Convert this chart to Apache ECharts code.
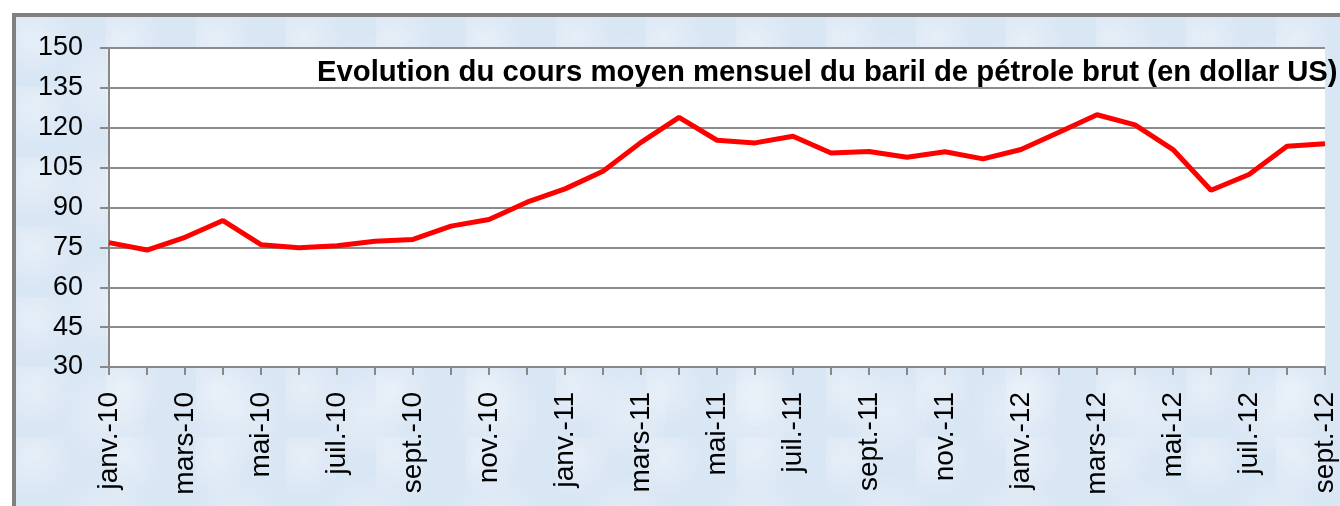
<!DOCTYPE html>
<html>
<head>
<meta charset="UTF-8">
<title>Evolution du cours du baril</title>
<script type="text/javascript" src="https://cdn.jsdelivr.net/npm/echarts@6/dist/echarts.min.js"></script>
<style>
  html, body { margin: 0; padding: 0; background: #fff; overflow: hidden; }
  #frame {
    position: absolute; left: 12px; top: 13px;
    width: 1400px; height: 520px;
    border-left: 4px solid #808080; border-top: 4px solid #808080;
    background-color: #d9e6f4;
    background-image:
      radial-gradient(circle at 20% 30%, rgba(255,255,255,0.35) 0, rgba(255,255,255,0) 40px),
      radial-gradient(circle at 70% 60%, rgba(255,255,255,0.3) 0, rgba(255,255,255,0) 50px);
    background-size: 90px 70px, 130px 110px;
  }
  #main { width: 1400px; height: 500px; }
</style>
</head>
<body>
<div id="frame"><div id="main"></div></div>
<script type="text/javascript">
// mois affichés sur l'axe
var months = ['janv.', 'févr.', 'mars', 'avr.', 'mai', 'juin', 'juil.', 'août', 'sept.', 'oct.', 'nov.', 'déc.'];
var years = ['10', '11', '12'];
var categories = [];
for (var y = 0; y < years.length; y++) {
  for (var m = 0; m < months.length; m++) {
    categories.push(months[m] + '-' + years[y]);
  }
}
categories = categories.slice(0, 33); // janv.-10 .. sept.-12

// cours moyen mensuel (USD)
var prices = [76.8, 74.0, 78.8, 85.1, 76.0, 74.9, 75.6, 77.3, 78.0, 83.0, 85.5, 92.0,
              97.0, 103.6, 114.5, 123.9, 115.3, 114.3, 116.8, 110.5, 111.1, 108.9, 111.0, 108.3,
              111.8, 118.3, 124.9, 121.1, 111.8, 96.5, 102.4, 113.0, 114.0];

var yMin = 30, yMax = 150, yStep = 15;

var chart = echarts.init(document.getElementById('main'));
var option = {
  backgroundColor: 'transparent',
  animation: false,
  title: {
    text: 'Evolution du cours moyen mensuel du baril de pétrole brut (en dollar US)',
    left: 301,
    top: 41,
    padding: 0,
    textStyle: {
      fontFamily: 'Liberation Sans, Arial, sans-serif',
      fontWeight: 'bold',
      fontSize: 29.3,
      color: '#000'
    }
  },
  grid: {
    left: 93, top: 31, width: 1216, height: 319,
    show: true, backgroundColor: '#fff', borderWidth: 0
  },
  xAxis: {
    type: 'category',
    data: categories,
    boundaryGap: false,
    axisLine: { lineStyle: { color: '#888', width: 2 } },
    axisTick: { interval: 0, length: 8, lineStyle: { color: '#888', width: 2 } },
    axisLabel: {
      interval: 1,
      rotate: 90,
      margin: 25,
      fontSize: 28,
      fontFamily: 'Liberation Sans, Arial, sans-serif',
      color: '#000'
    },
    splitLine: { show: false }
  },
  yAxis: {
    type: 'value',
    min: yMin, max: yMax, interval: yStep,
    axisLine: { show: true, lineStyle: { color: '#888', width: 2 } },
    axisTick: { show: true, length: 9, lineStyle: { color: '#888', width: 2 } },
    axisLabel: {
      margin: 26,
      fontSize: 27,
      fontFamily: 'Liberation Sans, Arial, sans-serif',
      color: '#000'
    },
    splitLine: { lineStyle: { color: '#8c8c8c', width: 2 } }
  },
  series: [{
    type: 'line',
    data: prices,
    showSymbol: false,
    lineStyle: { color: '#ff0000', width: 5 },
    itemStyle: { color: '#ff0000' }
  }]
};
chart.setOption(option);
</script>
</body>
</html>
